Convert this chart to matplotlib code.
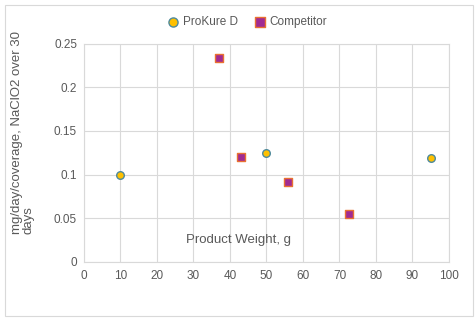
import matplotlib
matplotlib.use('Agg')

import matplotlib.pyplot as plt
import matplotlib.patches as patches

plt.rcParams['font.family'] = ['Liberation Sans', 'DejaVu Sans']

# data
prokure_weight = [10, 50, 95]
prokure_rate = [0.100, 0.125, 0.119]
competitor_weight = [37, 43, 56, 72.5]
competitor_rate = [0.233, 0.120, 0.091, 0.055]

x_ticks = list(range(0, 101, 10))
y_ticks = [0, 0.05, 0.1, 0.15, 0.2, 0.25]
y_tick_labels = ['0', '0.05', '0.1', '0.15', '0.2', '0.25']

grid_col = '#d9d9d9'
text_col = '#595959'

fig = plt.figure(figsize=(4.77, 3.23), dpi=100)
ax = fig.add_axes([84 / 477, 1 - 262 / 323, 365 / 477, 218.5 / 323])

# chart border
fig.patches.append(patches.Rectangle(
    (5 / 477, 1 - 316 / 323), 468 / 477, 311 / 323,
    transform=fig.transFigure, fill=False, edgecolor=grid_col, linewidth=0.8
))

ax.scatter(prokure_weight, prokure_rate, s=30, marker='o',
           facecolor='#ffc000', edgecolor='#4e8a9c', linewidth=1.0,
           label='ProKure D', zorder=3)
ax.scatter(competitor_weight, competitor_rate, s=30, marker='s',
           facecolor='#a02b93', edgecolor='#e97132', linewidth=1.0,
           label='Competitor', zorder=3)

ax.set_xlim(0, 100)
ax.set_ylim(0, 0.25)
ax.set_xticks(x_ticks)
ax.set_yticks(y_ticks)
ax.set_yticklabels(y_tick_labels)
ax.grid(True, color=grid_col, linewidth=0.8)
ax.set_axisbelow(True)
ax.tick_params(length=0, labelsize=8.5, colors=text_col)
ax.tick_params(axis='y', pad=5)
ax.tick_params(axis='x', pad=6)
for name, spine in ax.spines.items():
    spine.set_color(grid_col)
    spine.set_linewidth(0.8)

ax.text(42.2, 0.018, 'Product Weight, g', fontsize=9.5, color=text_col,
        ha='center', va='bottom')
fig.text(23 / 477, 1 - 132 / 323, 'mg/day/coverage, NaClO2 over 30\ndays',
         rotation=90, ha='center', va='center', multialignment='left',
         fontsize=9.5, color=text_col, linespacing=1.0)

fig.legend(loc='center', bbox_to_anchor=(248 / 477, 1 - 22 / 323), ncol=2,
           frameon=False, fontsize=8.5, labelcolor=text_col, markerscale=1.2,
           handlelength=0.8, handletextpad=0.4, columnspacing=1.5,
           borderaxespad=0)

fig.savefig('out.png', dpi=100, facecolor='white')
plt.close(fig)
